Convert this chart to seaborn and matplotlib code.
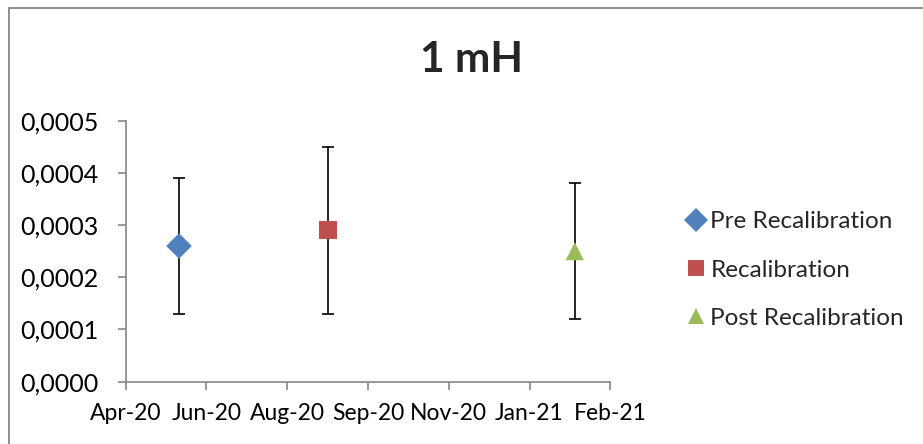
import matplotlib
matplotlib.use("Agg")
import matplotlib.pyplot as plt
import matplotlib.dates as mdates
from matplotlib.lines import Line2D
import numpy as np
import pandas as pd
import seaborn as sns

# Measurement data (inductance deviation for the 1 mH standard)
series = ["Pre Recalibration", "Recalibration", "Post Recalibration"]
dates = ["2020-06-01", "2020-09-01", "2021-02-01"]
values = [0.00026, 0.00029, 0.00025]
errors = [0.00013, 0.00016, 0.00013]

# Axis setup values
x_tick_start = "2020-04-29"
x_tick_step_days = 50
x_tick_count = 7
y_ticks = [0.0, 0.0001, 0.0002, 0.0003, 0.0004, 0.0005]

colors = {"Pre Recalibration": "#4F81BD",
          "Recalibration": "#C0504D",
          "Post Recalibration": "#9BBB59"}
markers = {"Pre Recalibration": "D",
           "Recalibration": "s",
           "Post Recalibration": "^"}

df = pd.DataFrame({"series": series,
                   "date": pd.to_datetime(dates),
                   "value": values,
                   "error": errors})

sns.set_style("white")
plt.rcParams["font.family"] = ["Lato", "DejaVu Sans"]

W, H = 923, 444
fig = plt.figure(figsize=(W / 100, H / 100), dpi=100)
ax = fig.add_axes([125.7 / W, 1 - 381.7 / H, (610.3 - 125.7) / W, (381.7 - 120.7) / H])

# Error bars behind the markers
ax.errorbar(df["date"], df["value"], yerr=df["error"], fmt="none",
            ecolor="black", elinewidth=1.2, capsize=4.5, capthick=1.2, zorder=2)

sns.scatterplot(data=df, x="date", y="value", hue="series", style="series",
                palette=colors, markers=markers, s=170, linewidth=0,
                ax=ax, zorder=3, legend=True)

xt = pd.date_range(start=x_tick_start, periods=x_tick_count,
                   freq=f"{x_tick_step_days}D")
ax.set_xlim(xt[0], xt[-1])
ax.set_xticks(xt)
ax.xaxis.set_major_formatter(mdates.DateFormatter("%b-%y"))

ax.set_ylim(y_ticks[0], y_ticks[-1])
ax.set_yticks(y_ticks)
ax.set_yticklabels([f"{v:.4f}".replace(".", ",") for v in y_ticks])

ax.set_xlabel("")
ax.set_ylabel("")

for side in ["top", "right"]:
    ax.spines[side].set_visible(False)
for side in ["left", "bottom"]:
    ax.spines[side].set_color("#868686")
    ax.spines[side].set_linewidth(1.2)

ax.tick_params(axis="both", which="major", direction="out", length=5.5,
               width=1.2, color="#868686", labelsize=18, labelcolor="black",
               bottom=True, left=True)
ax.tick_params(axis="y", pad=14)
ax.tick_params(axis="x", pad=9.5, labelsize=16.5)

fig.text(471.7 / W, 1 - 60 / H, "1 mH", ha="center", va="center",
         fontsize=30.5, fontweight="bold")

# Legend on the right
handles, labels = ax.get_legend_handles_labels()
ax.get_legend().remove()
for h in handles:
    h.set_markersize(12)
fig.legend(handles, labels, loc="center left",
           bbox_to_anchor=(669 / W, 1 - 270 / H), frameon=False,
           fontsize=17.5, labelspacing=1.13, handletextpad=0.0,
           handlelength=1.2, borderpad=0)

# Chart area border
fig.add_artist(Line2D([8.5 / W, 8.5 / W], [-0.1, 1 - 8.5 / H],
                      transform=fig.transFigure, color="#868686", lw=1.3))
fig.add_artist(Line2D([8.5 / W, 1.1], [1 - 8.5 / H, 1 - 8.5 / H],
                      transform=fig.transFigure, color="#868686", lw=1.3))

fig.savefig("out.png", dpi=100, facecolor="white")
